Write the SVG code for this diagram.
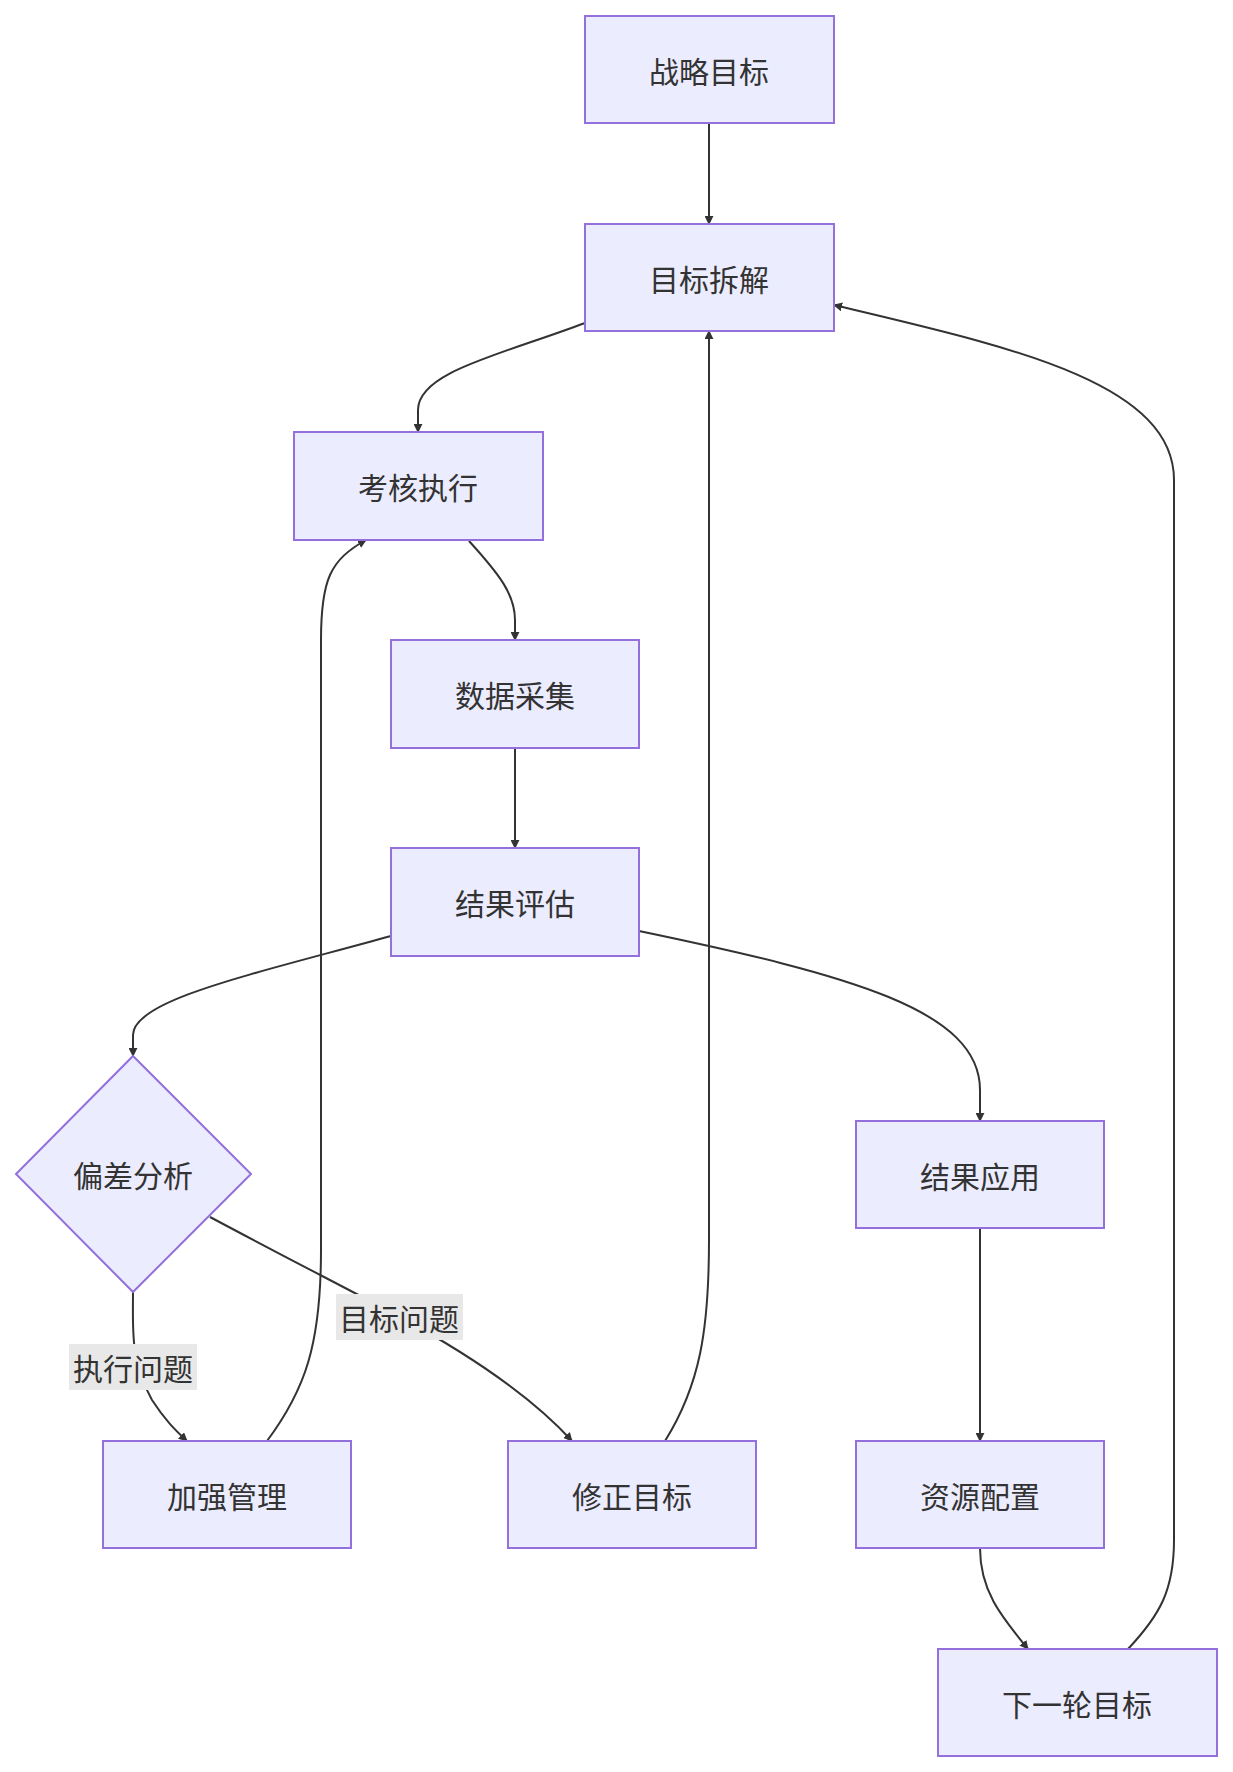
<svg xmlns="http://www.w3.org/2000/svg" width="1233" height="1772" viewBox="0 0 1233 1772">
<style>
.n{fill:#ECECFF;stroke:#9370DB;stroke-width:2}
.t{font-family:"Noto Sans CJK SC","Liberation Sans",sans-serif;font-size:30px;fill:#333;text-anchor:middle;dominant-baseline:central}
.e{fill:none;stroke:#333;stroke-width:2;marker-end:url(#a)}
.lb{fill:#e8e8e8}
</style>
<defs><marker id="a" viewBox="0 0 10 10" refX="9" refY="5" markerWidth="9" markerHeight="9" markerUnits="userSpaceOnUse" orient="auto"><path d="M0,0L10,5L0,10z" fill="#333"/></marker></defs>
<rect width="1233" height="1772" fill="#fff"/>
<g id="edges">
<path class="e" d="M709,123L709,224"/>
<path class="e" d="M585,323C500,355 418,372 418,410L418,432"/>
<path class="e" d="M469,541C500,575 515,595 515,620L515,640"/>
<path class="e" d="M515,748L515,848"/>
<path class="e" d="M391,936C250,975 133,1000 133,1035L133,1056"/>
<path class="e" d="M639,931C850,975 980,1010 980,1090L980,1121"/>
<path class="e" d="M980,1228L980,1441"/>
<path class="e" d="M980,1548C980,1590 1000,1615 1028,1649"/>
<path class="e" d="M1128,1649C1160,1615 1174,1590 1174,1540L1174,480C1174,380 1000,345 834,305"/>
<path class="e" d="M665,1441C700,1385 709,1330 709,1240L709,331"/>
<path class="e" d="M267,1441C305,1390 321,1345 321,1250L321,640C321,580 330,560 366,540"/>
<path class="e" d="M133,1292C133,1330 130,1360 152,1400C165,1420 175,1430 187,1441"/>
<path class="e" d="M210,1217C300,1265 350,1290 400,1317C470,1355 530,1395 572,1441"/>
<rect class="lb" x="69" y="1344" width="128" height="46"/>
<text class="t" x="133" y="1367">执行问题</text>
<rect class="lb" x="336" y="1294" width="127" height="46"/>
<text class="t" x="399" y="1317">目标问题</text>
</g>
<g id="n1"><rect class="n" x="585" y="16" width="249" height="107"/><text class="t" x="709" y="70">战略目标</text></g>
<g id="n2"><rect class="n" x="585" y="224" width="249" height="107"/><text class="t" x="709" y="278">目标拆解</text></g>
<g id="n3"><rect class="n" x="294" y="432" width="249" height="108"/><text class="t" x="418" y="486">考核执行</text></g>
<g id="n4"><rect class="n" x="391" y="640" width="248" height="108"/><text class="t" x="515" y="694">数据采集</text></g>
<g id="n5"><rect class="n" x="391" y="848" width="248" height="108"/><text class="t" x="515" y="902">结果评估</text></g>
<g id="n6"><polygon class="n" points="133,1056 251,1174 133,1292 16,1174"/><text class="t" x="133" y="1174">偏差分析</text></g>
<g id="n7"><rect class="n" x="856" y="1121" width="248" height="107"/><text class="t" x="980" y="1175">结果应用</text></g>
<g id="n8"><rect class="n" x="103" y="1441" width="248" height="107"/><text class="t" x="227" y="1495">加强管理</text></g>
<g id="n9"><rect class="n" x="508" y="1441" width="248" height="107"/><text class="t" x="632" y="1495">修正目标</text></g>
<g id="n10"><rect class="n" x="856" y="1441" width="248" height="107"/><text class="t" x="980" y="1495">资源配置</text></g>
<g id="n11"><rect class="n" x="938" y="1649" width="279" height="107"/><text class="t" x="1077" y="1703">下一轮目标</text></g>
</svg>
